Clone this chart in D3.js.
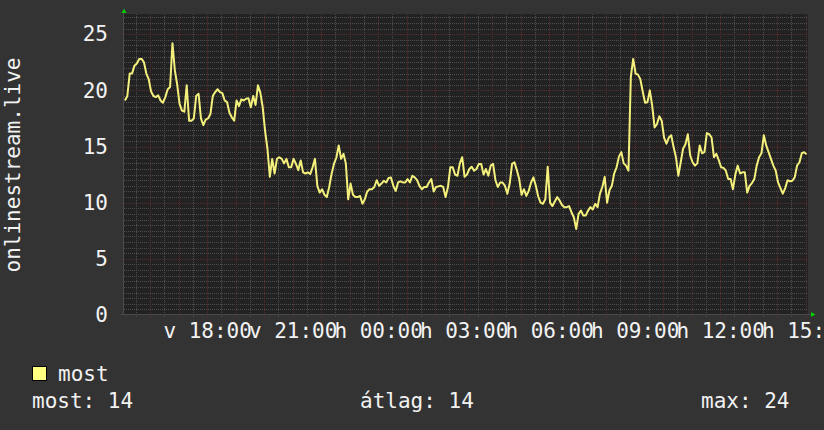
<!DOCTYPE html>
<html>
<head>
<meta charset="utf-8">
<script src="https://cdn.jsdelivr.net/npm/d3@7"></script>
<style>
  body { margin: 0; background: #333333; }
  svg { display: block; }
  text { font-family: "DejaVu Sans Mono", monospace; fill: #f2f2f2; }
</style>
</head>
<body>
<svg id="chart" width="824" height="430"></svg>
<script>
// onlinestream.live - users, last 24h, one sample every 5 minutes
var startTime = "2024-06-09T15:05:00Z";
var stepMinutes = 5;
var dayAbbr = ["v", "h", "k", "sze", "cs", "p", "szo"];
var yTicks = [0, 5, 10, 15, 20, 25];
var seriesName = "most";
var axisTitle = "onlinestream.live";
var users = [
  19.1, 19.5, 21.5, 21.5, 22.2, 22.4, 22.8, 22.8, 22.5, 21.5,
  21.0, 19.9, 19.5, 19.4, 19.55, 19.1, 18.9, 19.4, 20.1, 20.3,
  24.2, 21.8, 20.5, 18.8, 18.2, 18.1, 20.45, 17.3, 17.3, 17.5,
  19.5, 19.7, 17.5, 16.9, 17.4, 17.5, 17.9, 19.5, 19.85, 20.1,
  19.85, 19.75, 19.1, 18.95, 18.0, 17.6, 17.3, 19.1, 18.6, 19.2,
  19.1, 19.25, 19.3, 18.5, 19.5, 18.7, 20.45, 19.8, 18.5, 16.4,
  14.8, 12.3, 13.9, 12.6, 13.9, 14.05, 13.9, 13.5, 13.9, 13.15,
  13.15, 13.9, 13.45, 12.9, 13.75, 12.7, 12.6, 12.7, 12.55, 13.15,
  13.9, 11.5, 10.9, 11.2, 10.7, 10.5, 11.4, 12.55, 13.45, 14.0,
  15.1, 13.9, 14.35, 13.5, 10.3, 11.7, 10.7, 10.5, 10.5, 10.6,
  9.9, 10.3, 11.0, 11.2, 11.2, 11.4, 12.0, 11.5, 11.7, 11.95,
  11.8, 12.2, 12.25, 11.5, 11.05, 11.8, 11.9, 11.8, 11.8, 12.1,
  11.8, 12.4, 12.25, 12.0, 11.5, 11.2, 11.4, 11.4, 11.8, 12.1,
  11.0, 11.4, 11.45, 11.5, 11.4, 10.5, 11.4, 13.15, 13.15, 12.5,
  12.4, 13.5, 14.05, 12.3, 12.5, 13.0, 13.2, 12.85, 13.0, 13.45,
  13.45, 12.5, 13.0, 12.4, 13.3, 13.45, 12.0, 11.4, 11.8, 11.8,
  11.5, 10.8, 11.7, 13.45, 13.6, 12.9, 12.1, 10.7, 11.2, 10.6,
  11.05, 11.8, 12.25, 11.5, 10.55, 10.0, 9.9, 10.3, 13.2, 10.0,
  9.7, 10.1, 10.5, 10.2, 9.8, 9.6, 9.6, 9.7, 9.15, 8.7,
  7.65, 9.0, 9.3, 8.85, 8.85, 9.3, 9.6, 9.4, 9.9, 9.6,
  10.8, 11.4, 12.3, 10.0, 11.1, 11.5, 12.6, 13.15, 14.1, 14.5,
  13.5, 13.3, 12.85, 21.2, 22.8, 21.5, 21.4, 21.0, 19.9, 18.9,
  18.95, 20.0, 18.65, 16.7, 17.0, 17.7, 17.3, 15.8, 15.25, 15.8,
  16.0, 14.95, 14.05, 12.4, 13.6, 14.8, 15.2, 16.1, 14.2, 13.6,
  13.3, 13.5, 15.1, 14.4, 14.5, 16.2, 16.1, 15.8, 14.05, 14.35,
  13.8, 13.15, 13.1, 12.85, 12.1, 12.1, 11.2, 12.5, 13.3, 12.6,
  12.7, 12.7, 10.9, 11.5, 11.75, 12.1, 13.3, 14.05, 14.4, 16.0,
  15.1, 14.5, 13.9, 13.3, 12.85, 11.8, 11.3, 10.8, 11.3, 12.0,
  11.9, 11.95, 12.25, 13.3, 13.6, 14.4, 14.5, 14.3
];

var svg = d3.select("#chart");
var plot = {left: 124, right: 808, top: 14, bottom: 315};

var t0 = new Date(startTime);
var t1 = d3.utcHour.offset(t0, 24);
var data = users.map(function(v, i) {
    return {t: d3.utcMinute.offset(t0, i * stepMinutes + stepMinutes / 2), v: v};
});

var x = d3.scaleUtc().domain([t0, t1]).range([plot.left, plot.right]);
var y = d3.scaleLinear().domain([0, 26.8]).range([plot.bottom, plot.top]);

// canvas
svg.append("rect").attr("width", 824).attr("height", 430).attr("fill", "#333333");
svg.append("rect")
    .attr("x", plot.left).attr("y", plot.top)
    .attr("width", plot.right - plot.left).attr("height", plot.bottom - plot.top)
    .attr("fill", "#222222");

// grid
var grid = svg.append("g").attr("shape-rendering", "crispEdges");
var halfHours = d3.utcMinute.every(30).range(t0, t1).filter(function(d) { return d.getUTCMinutes() === 30; });
var hours = d3.utcHour.range(t0, t1);
var yMinor = d3.range(0.5, 26.8, 0.5).filter(function(d) { return d % 5 !== 0; });
var yMajor = yTicks.filter(function(d) { return d > 0; });

grid.selectAll(".hmin").data(yMinor).enter().append("line")
    .attr("x1", plot.left).attr("x2", plot.right)
    .attr("y1", function(d) { return Math.round(y(d)) + 0.5; })
    .attr("y2", function(d) { return Math.round(y(d)) + 0.5; })
    .attr("stroke", "#4d4d4d").attr("stroke-dasharray", "1,1");
grid.selectAll(".vmin").data(halfHours).enter().append("line")
    .attr("x1", function(d) { return Math.round(x(d)) + 0.5; })
    .attr("x2", function(d) { return Math.round(x(d)) + 0.5; })
    .attr("y1", plot.top).attr("y2", plot.bottom + 3)
    .attr("stroke", "#4d4d4d").attr("stroke-dasharray", "1,1");
grid.selectAll(".hmaj").data(yMajor).enter().append("line")
    .attr("x1", plot.left - 2).attr("x2", plot.right)
    .attr("y1", function(d) { return Math.round(y(d)) + 0.5; })
    .attr("y2", function(d) { return Math.round(y(d)) + 0.5; })
    .attr("stroke", "#5a2c2c").attr("stroke-dasharray", "1,1");
grid.selectAll(".vmaj").data(hours).enter().append("line")
    .attr("x1", function(d) { return Math.round(x(d)) + 0.5; })
    .attr("x2", function(d) { return Math.round(x(d)) + 0.5; })
    .attr("y1", plot.top).attr("y2", plot.bottom + 3)
    .attr("stroke", "#5a2c2c").attr("stroke-dasharray", "1,1");

// axis lines + arrows
svg.append("line").attr("x1", plot.left - 0.5).attr("x2", plot.left - 0.5)
    .attr("y1", plot.bottom).attr("y2", 12).attr("stroke", "#4a4a4a");
svg.append("line").attr("x1", plot.left - 3).attr("x2", 811)
    .attr("y1", plot.bottom - 0.5).attr("y2", plot.bottom - 0.5).attr("stroke", "#4a4a4a");
svg.append("path").attr("d", "M121.5,13L124,8.5L126.5,13Z").attr("fill", "#00cc00");
svg.append("path").attr("d", "M811,312L815.5,314.5L811,317Z").attr("fill", "#00cc00");

// series
var line = d3.line()
    .x(function(d) { return x(d.t); })
    .y(function(d) { return y(d.v); });
svg.append("path").datum(data)
    .attr("d", line)
    .attr("fill", "none")
    .attr("stroke", "#f4f07c")
    .attr("stroke-width", 2)
    .attr("stroke-linejoin", "round");

// axes labels
var fmtTime = d3.utcFormat("%H:%M");
var xAxis = d3.axisBottom(x)
    .tickValues(d3.utcHour.every(3).range(t0, d3.utcMinute.offset(t1, 1)))
    .tickSize(0).tickPadding(8)
    .tickFormat(function(d) { return dayAbbr[d.getUTCDay()] + " " + fmtTime(d); });
var gx = svg.append("g").attr("transform", "translate(0," + plot.bottom + ")").call(xAxis);
var yAxis = d3.axisLeft(y).tickValues(yTicks).tickSize(0).tickPadding(16);
var gy = svg.append("g").attr("transform", "translate(" + plot.left + ",0)").call(yAxis);
[gx, gy].forEach(function(g) {
    g.select(".domain").remove();
    g.selectAll("text").attr("fill", "#f2f2f2")
        .style("font-family", "'DejaVu Sans Mono', monospace").style("font-size", "21px");
});

svg.append("text")
    .attr("transform", "translate(19.5,165) rotate(-90)")
    .attr("text-anchor", "middle")
    .style("font-size", "21px")
    .text(axisTitle);

// legend
var fmt = d3.format(".0f");
svg.append("rect").attr("x", 32.5).attr("y", 366.5).attr("width", 14).attr("height", 14)
    .attr("fill", "#ffff80").attr("stroke", "#000");
svg.append("text").attr("x", 58).attr("y", 381).style("font-size", "21px").text(seriesName);
svg.append("text").attr("x", 32).attr("y", 408).style("font-size", "21px")
    .text("most: " + fmt(users[users.length - 1]));
svg.append("text").attr("x", 360).attr("y", 408).style("font-size", "21px")
    .text("átlag: " + fmt(d3.mean(users)));
svg.append("text").attr("x", 701).attr("y", 408).style("font-size", "21px")
    .text("max: " + fmt(d3.max(users)));
</script>
</body>
</html>
